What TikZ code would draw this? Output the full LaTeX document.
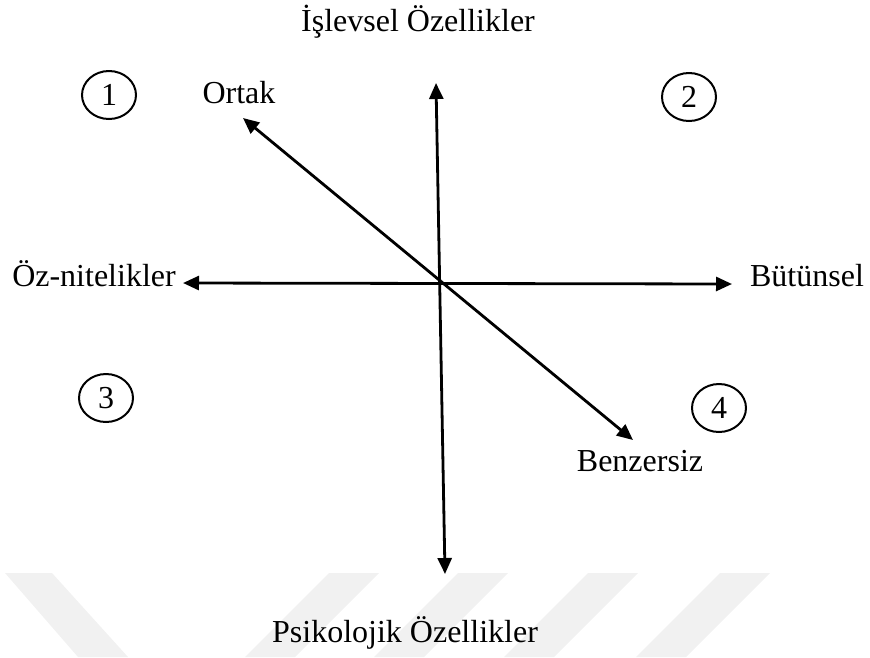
\documentclass[tikz,border=0pt]{standalone}
\usepackage{fontspec}
\setmainfont{Liberation Serif}
\usepackage{xcolor}
\usetikzlibrary{shapes.geometric, arrows.meta, positioning}
\definecolor{markgray}{RGB}{241,241,241}

\begin{document}
\begin{tikzpicture}[x=1pt, y=-1pt,
      lbl/.style={font=\fontsize{32}{38}\selectfont, inner sep=0pt, anchor=base},
      zone/.style={ellipse, draw, line width=2pt, minimum width=54pt,
                   minimum height=48pt, inner sep=0pt, font=\fontsize{32}{38}\selectfont},
      arr/.style={{Triangle[length=16pt,width=14pt]}-{Triangle[length=16pt,width=14pt]},
                  line width=2.8pt},
      band/.style={fill=markgray, draw=none}
    ]
    \useasboundingbox (0,0) rectangle (870,657);

    %% Watermark
    \fill[band] (5,573) -- (52,573) -- (128,657) -- (78,657) -- cycle;
    \foreach \x in {329,458,588,720}
      \fill[band] (\x,573) -- (\x+50,573) -- (\x-34,657) -- (\x-84,657) -- cycle;

    %% Axis labels
    \node[lbl] (top)    at (418,31)  {İşlevsel Özellikler};
    \node[lbl] (bottom) at (405,642) {Psikolojik Özellikler};
    \node[lbl] (left)   at (94,286)  {Öz-nitelikler};
    \node[lbl] (right)  at (807,286) {Bütünsel};
    \node[lbl] (ortak)  at (239,103) {Ortak};
    \node[lbl] (benz)   at (640,471) {Benzersiz};

    %% Quadrants
    \node[zone] (q1) at (109,95)  {1};
    \node[zone] (q2) at (689,97)  {2};
    \node[zone] (q3) at (106,398) {3};
    \node[zone] (q4) at (719,408) {4};

    %% Axes
    \coordinate (n)  at (436,83);
    \coordinate (s)  at (445,574);
    \coordinate (w)  at (183,283);
    \coordinate (e)  at (732,284);
    \coordinate (nw) at (243,118);
    \coordinate (se) at (633,440);

    \draw[arr] (n) -- (s);
    \draw[arr] (w) -- (e);
    \draw[arr] (nw) -- (se);
  \end{tikzpicture}
\end{document}
